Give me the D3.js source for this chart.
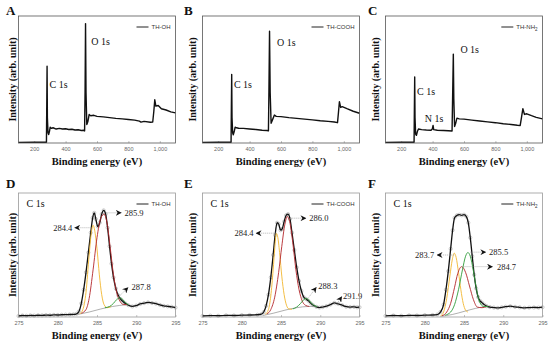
<!DOCTYPE html>
<html>
<head>
<meta charset="utf-8">
<script src="https://cdn.jsdelivr.net/npm/d3@7"></script>
<style>
  body { margin: 0; background: #fff; }
  svg { display: block; }
  .serif { font-family: "Liberation Serif", "Times New Roman", serif; }
  .sans { font-family: "Liberation Sans", Arial, sans-serif; }
</style>
</head>
<body>
<svg id="chart" width="550" height="346"></svg>
<script>
// tick labels
const surveyTicks = [200, 400, 600, 800, 1000];
const c1sTicks = [275, 280, 285, 290, 295];

// survey spectra: [binding energy eV, intensity a.u.]
const surveyA = [[100,0.5],[200,0.6],[278,0.6],[280,30],[282,60.5],[284,20],[288,8],[292,6.6],[297,9],[302,12.5],[310,11.5],[320,12],[340,11],[360,11.5],[380,11],[400,11.2],[420,10.6],[440,10.8],[460,10.2],[480,10.4],[500,9.8],[515,10],[521,9.5],[524,40],[527,94],[530,40],[535,14.5],[542,17],[550,22.4],[560,21.5],[580,21.8],[600,21],[640,20.6],[680,20],[720,19.4],[760,19],[800,18.5],[840,18],[870,17.2],[880,16.4],[900,17],[940,16.3],[955,16.5],[962,25],[968,34],[975,29],[990,29.5],[1010,27],[1040,26],[1070,24.5],[1100,23.7]];
const surveyB = [[100,0.5],[200,0.6],[282,0.6],[284,30],[286,54],[288,20],[292,8],[296,6.5],[302,9],[308,12.5],[316,12],[330,11.6],[360,11.5],[400,11],[440,10.6],[480,10],[510,9.8],[520,9.6],[523,40],[527,88],[531,40],[537,15.6],[545,18],[558,22],[570,21],[600,20.8],[650,20],[700,19.4],[750,18.8],[800,18.2],[850,17.5],[900,17],[940,16.5],[960,16],[966,24],[972,32.5],[980,28],[990,28.6],[1020,27],[1060,25],[1100,23.4]];
const surveyC = [[100,0.5],[200,0.6],[282,0.6],[284,28],[286,52],[288,20],[292,7],[297,6],[303,9],[310,11],[330,10.5],[360,10.2],[390,10],[398,11],[403,13.8],[407,10.5],[430,10],[470,9.8],[500,9.6],[524,9.4],[528,40],[532,70],[535,35],[540,13],[548,16],[555,19.6],[570,19],[600,18.8],[650,18],[700,17.3],[750,16.6],[800,16],[850,15.2],[900,14.6],[940,14],[958,13.8],[966,20],[975,27],[985,22.5],[1000,23],[1030,21.5],[1060,20.2],[1100,19]];

// C 1s high resolution: measured points
const rawD = [[275,0.8],[275.5,1.2],[276,1.0],[276.5,1.3],[277,1.1],[277.5,1.4],[278,1.3],[278.5,1.5],[279,1.4],[279.5,1.7],[280,1.6],[280.5,1.8],[281,1.9],[281.5,2.0],[282,2.1],[282.4,2.6],[282.7,4.5],[283.0,11],[283.3,22],[283.6,36],[283.9,52],[284.2,68],[284.45,80],[284.65,84],[284.85,79],[285.1,73],[285.35,76],[285.6,83],[285.85,86],[286.1,83],[286.35,72],[286.6,57],[286.85,43],[287.1,32],[287.4,23],[287.7,17.5],[288.0,14.5],[288.3,12.5],[288.6,11],[289.0,9.5],[289.5,8.5],[290.0,9.2],[290.5,10.5],[291.0,11.2],[291.5,11.8],[292.0,11.3],[292.5,10.8],[293.0,9.8],[293.5,9],[294.0,8.6],[294.5,8.2],[295,7.6]];
const rawE = [[275,0.8],[276,1.1],[277,1.0],[278,1.3],[279,1.2],[280,1.5],[281,1.6],[282,1.8],[282.5,2.3],[282.8,4],[283.1,9],[283.4,18],[283.7,32],[284.0,50],[284.25,66],[284.5,76],[284.7,75],[284.95,70],[285.15,71],[285.4,77],[285.65,82],[285.9,83],[286.15,79],[286.4,68],[286.7,54],[287.0,40],[287.3,29],[287.6,21],[287.9,16],[288.2,14.5],[288.5,13],[288.8,11],[289.1,9.5],[289.5,8.2],[289.9,7.6],[290.3,8],[290.8,8.8],[291.3,10],[291.8,11.4],[292.3,10.6],[292.8,9.5],[293.3,8.3],[293.8,8],[294.3,8.2],[294.7,7.8],[295,7.9]];
const rawF = [[275,0.9],[276,1.2],[277,1.0],[278,1.3],[279,1.2],[280,1.5],[281,1.6],[281.6,2],[282.0,4],[282.4,10],[282.7,22],[283.0,37],[283.3,55],[283.55,70],[283.8,80],[284.1,82],[284.4,82.5],[284.7,82],[285.0,82.5],[285.3,81],[285.55,76],[285.8,64],[286.05,49],[286.3,34],[286.55,23],[286.8,16],[287.05,13],[287.3,11.5],[287.6,9.8],[287.9,8.7],[288.3,8],[288.8,7.6],[289.3,7.3],[289.8,7.8],[290.3,8.3],[290.9,8.7],[291.5,8.2],[292.1,7.8],[292.7,7.4],[293.3,7.6],[293.9,7.7],[294.5,7.6],[295,7.9]];

// fitted components
const baseD = [[282.5,2],[284,4],[285.5,6.5],[287,8.5],[288.8,10]];
const yellowD = [[282.8,2.5],[283.2,6],[283.6,20],[284.0,50],[284.3,69],[284.5,74],[284.7,70],[285.0,55],[285.3,34],[285.6,18],[285.9,10],[286.3,7.5],[286.8,8.5]];
const redD = [[283.0,3],[283.6,6],[284.0,15],[284.5,38],[285.0,64],[285.5,80],[285.9,83],[286.3,75],[286.7,55],[287.1,34],[287.5,20],[287.9,13],[288.4,10],[288.8,10]];
const greenD = [[286.0,7.5],[286.6,8.5],[287.1,11],[287.5,14],[287.9,15.5],[288.3,14],[288.7,11],[289.0,10]];

const baseE = [[282.7,1.2],[284,3],[285.5,5.5],[287,7.5],[288.5,8.5],[289.8,8.5]];
const yellowE = [[283.0,2.2],[283.4,6],[283.7,17],[284.0,38],[284.2,55],[284.4,67.5],[284.6,64],[284.85,50],[285.1,33],[285.4,18],[285.7,9.5],[286.0,6.5],[286.4,6.2]];
const redE = [[283.2,2.5],[283.7,6],[284.2,16],[284.7,36],[285.1,57],[285.5,75],[285.8,81],[286.1,77],[286.5,60],[286.9,38],[287.3,22],[287.7,13],[288.1,9.5],[288.6,8.5]];
const greenE = [[286.5,6.5],[287.0,8],[287.5,11],[287.9,14],[288.2,15],[288.5,14],[288.9,11],[289.3,9],[289.6,8.5]];

const baseF = [[282.0,0.5],[283.5,2],[285,4.5],[286.5,7],[287.9,8.7]];
const yellowF = [[282.0,0.8],[282.4,4],[282.8,15],[283.2,33],[283.5,46],[283.75,51.5],[284.0,48],[284.3,36],[284.6,22],[284.9,11],[285.2,5.5],[285.5,4]];
const redF = [[282.2,1],[282.8,4],[283.3,11],[283.8,24],[284.2,35],[284.7,40.6],[285.2,36],[285.7,25],[286.2,14],[286.7,8],[287.3,7.5],[287.9,8.5]];
const greenF = [[282.6,1.5],[283.3,4],[283.8,10],[284.3,22],[284.8,38],[285.2,49],[285.5,52],[285.8,49],[286.2,37],[286.6,22],[287.0,12],[287.5,8.5],[288.1,8.5]];

const svg = d3.select('#chart');

const defs = svg.append('defs');
defs.append('marker')
  .attr('id', 'arr')
  .attr('viewBox', '0 0 8 8')
  .attr('refX', 7.5).attr('refY', 4)
  .attr('markerWidth', 6).attr('markerHeight', 6)
  .attr('markerUnits', 'userSpaceOnUse')
  .attr('orient', 'auto')
  .append('path')
  .attr('d', 'M0,0 L8,4 L0,8 L2.5,4 Z')
  .attr('fill', '#111');

const colLeft = [18.5, 202.5, 385.5];
const letterX = [6, 184, 368];
const yTitleX = [12, 192, 375];
const boxW = 157;
const rows = [{ top: 16, h: 127 }, { top: 193, h: 124 }];

const panels = [
  { letter: 'A', col: 0, row: 0, data: surveyA, legend: 'TH-OH',
    peaks: [['C 1s', 298, 43], ['O 1s', 564, 77]] },
  { letter: 'B', col: 1, row: 0, data: surveyB, legend: 'TH-COOH',
    peaks: [['C 1s', 300, 43], ['O 1s', 575, 76]] },
  { letter: 'C', col: 2, row: 0, data: surveyC, legend: 'TH-NH', sub: '2',
    peaks: [['C 1s', 301, 38], ['N 1s', 350, 16.4], ['O 1s', 577, 71]] },
  { letter: 'D', col: 0, row: 1, data: rawD, legend: 'TH-OH',
    comps: [baseD, yellowD, redD, greenD],
    notes: [
      { label: '284.4', from: [284.3, 72], to: [282.15, 72], text: [281.85, 69.5], anchor: 'end' },
      { label: '285.9', from: [286.2, 84], to: [288.1, 84], text: [288.5, 81.5], anchor: 'start' },
      { label: '287.8', from: [287.55, 15], to: [288.96, 23.8], text: [289.4, 22], anchor: 'start' }
    ] },
  { letter: 'E', col: 1, row: 1, data: rawE, legend: 'TH-COOH',
    comps: [baseE, yellowE, redE, greenE],
    notes: [
      { label: '284.4', from: [284.4, 67.6], to: [281.8, 67.6], text: [281.5, 65], anchor: 'end' },
      { label: '286.0', from: [286.1, 79.7], to: [288.2, 79.7], text: [288.6, 77.2], anchor: 'start' },
      { label: '288.3', from: [288.2, 13], to: [289.5, 24], text: [289.75, 22.3], anchor: 'start' },
      { label: '291.9', from: [292.0, 9.5], to: [292.75, 16.5], text: [292.9, 14.5], anchor: 'start' }
    ] },
  { letter: 'F', col: 2, row: 1, data: rawF, legend: 'TH-NH', sub: '2',
    comps: [baseF, yellowF, redF, greenF],
    notes: [
      { label: '283.7', from: [283.75, 50], to: [281.55, 50], text: [281.2, 47.5], anchor: 'end' },
      { label: '285.5', from: [285.8, 52.3], to: [287.8, 52.3], text: [288.2, 49.8], anchor: 'start' },
      { label: '284.7', from: [284.8, 40.6], to: [288.65, 40.6], text: [289.2, 38.1], anchor: 'start' }
    ] }
];

const compColors = ['#8c8c8c', '#f2b730', '#b3262a', '#2f9c3a'];

panels.forEach(p => {
  const left = colLeft[p.col];
  const top = rows[p.row].top;
  const ht = rows[p.row].h;
  const survey = p.row === 0;
  const g = svg.append('g');

  const x = d3.scaleLinear()
    .domain(survey ? [100, 1100] : [275, 295])
    .range([left, left + boxW]);
  const y = d3.scaleLinear()
    .domain([0, 100])
    .range([top + ht, top]);

  // x axis
  const ax = g.append('g')
    .attr('transform', `translate(0, ${top + ht})`)
    .call(d3.axisBottom(x)
      .tickValues(survey ? surveyTicks : c1sTicks)
      .tickSizeInner(-2)
      .tickSizeOuter(0)
      .tickPadding(4));
  ax.select('.domain').remove();
  ax.selectAll('line').attr('stroke', '#888').attr('stroke-width', 0.5);
  ax.selectAll('text')
    .attr('class', 'sans')
    .attr('font-size', 5.5)
    .attr('fill', '#666');

  const line = d3.line()
    .x(d => x(d[0]))
    .y(d => y(d[1]));

  if (survey) {
    g.append('path')
      .datum(p.data)
      .attr('d', line)
      .attr('fill', 'none')
      .attr('stroke', '#111')
      .attr('stroke-width', 1.4)
      .attr('stroke-linejoin', 'round');

    p.peaks.forEach(pk => {
      g.append('text')
        .attr('class', 'serif')
        .attr('x', x(pk[1]))
        .attr('y', y(pk[2]))
        .attr('font-size', 10)
        .attr('fill', '#111')
        .text(pk[0]);
    });
  } else {
    const smooth = d3.line()
      .x(d => x(d[0]))
      .y(d => y(d[1]))
      .curve(d3.curveMonotoneX);

    g.selectAll('.pt')
      .data(p.data)
      .enter()
      .append('circle')
      .attr('cx', d => x(d[0]))
      .attr('cy', d => y(d[1]))
      .attr('r', 1.6)
      .attr('fill', 'none')
      .attr('stroke', '#a8a8a8')
      .attr('stroke-width', 0.6);

    g.append('path')
      .datum(p.data)
      .attr('d', smooth)
      .attr('fill', 'none')
      .attr('stroke', '#111')
      .attr('stroke-width', 1.3);

    p.comps.forEach((c, i) => {
      g.append('path')
        .datum(c)
        .attr('d', smooth)
        .attr('fill', 'none')
        .attr('stroke', compColors[i])
        .attr('stroke-width', i === 0 ? 0.7 : 0.9);
    });

    p.notes.forEach(n => {
      g.append('line')
        .attr('x1', x(n.from[0])).attr('y1', y(n.from[1]))
        .attr('x2', x(n.to[0])).attr('y2', y(n.to[1]))
        .attr('stroke', '#9a9a9a')
        .attr('stroke-width', 0.6)
        .attr('stroke-dasharray', '1.2,0.8')
        .attr('marker-end', 'url(#arr)');
      g.append('text')
        .attr('class', 'serif')
        .attr('x', x(n.text[0]))
        .attr('y', y(n.text[1]))
        .attr('text-anchor', n.anchor)
        .attr('font-size', 8.5)
        .attr('fill', '#222')
        .text(n.label);
    });

    g.append('text')
      .attr('class', 'serif')
      .attr('x', left + 8)
      .attr('y', top + 14)
      .attr('font-size', 10)
      .attr('fill', '#111')
      .text('C 1s');
  }

  // frame
  g.append('rect')
    .attr('x', left).attr('y', top)
    .attr('width', boxW).attr('height', ht)
    .attr('fill', 'none')
    .attr('stroke', survey ? '#555' : '#999')
    .attr('stroke-width', 0.8);

  // legend
  const lg = g.append('text')
    .attr('class', 'sans')
    .attr('x', left + boxW - 5)
    .attr('y', top + 13)
    .attr('text-anchor', 'end')
    .attr('font-size', 6)
    .attr('fill', '#333')
    .text(p.legend);
  if (p.sub) {
    lg.append('tspan')
      .attr('font-size', 4.5)
      .attr('dy', 1.5)
      .text(p.sub);
  }
  const lgStart = left + boxW - 5 - lg.node().getComputedTextLength();
  g.append('line')
    .attr('x1', lgStart - 15).attr('x2', lgStart - 3)
    .attr('y1', top + 11).attr('y2', top + 11)
    .attr('stroke', '#222')
    .attr('stroke-width', 1);

  // axis titles
  g.append('text')
    .attr('class', 'serif')
    .attr('x', left + boxW / 2)
    .attr('y', top + ht + 22)
    .attr('text-anchor', 'middle')
    .attr('font-size', 10.5)
    .attr('font-weight', 'bold')
    .attr('fill', '#111')
    .text('Binding energy (eV)');

  g.append('text')
    .attr('class', 'serif')
    .attr('transform', `translate(${yTitleX[p.col] + 3.5}, ${top + ht / 2}) rotate(-90)`)
    .attr('text-anchor', 'middle')
    .attr('font-size', 10)
    .attr('font-weight', 'bold')
    .attr('fill', '#111')
    .text('Intensity (arb. unit)');

  // panel letter
  g.append('text')
    .attr('class', 'serif')
    .attr('x', letterX[p.col])
    .attr('y', p.row === 0 ? 15 : 188)
    .attr('font-size', 13)
    .attr('font-weight', 'bold')
    .attr('fill', '#111')
    .text(p.letter);
});
</script>
</body>
</html>
